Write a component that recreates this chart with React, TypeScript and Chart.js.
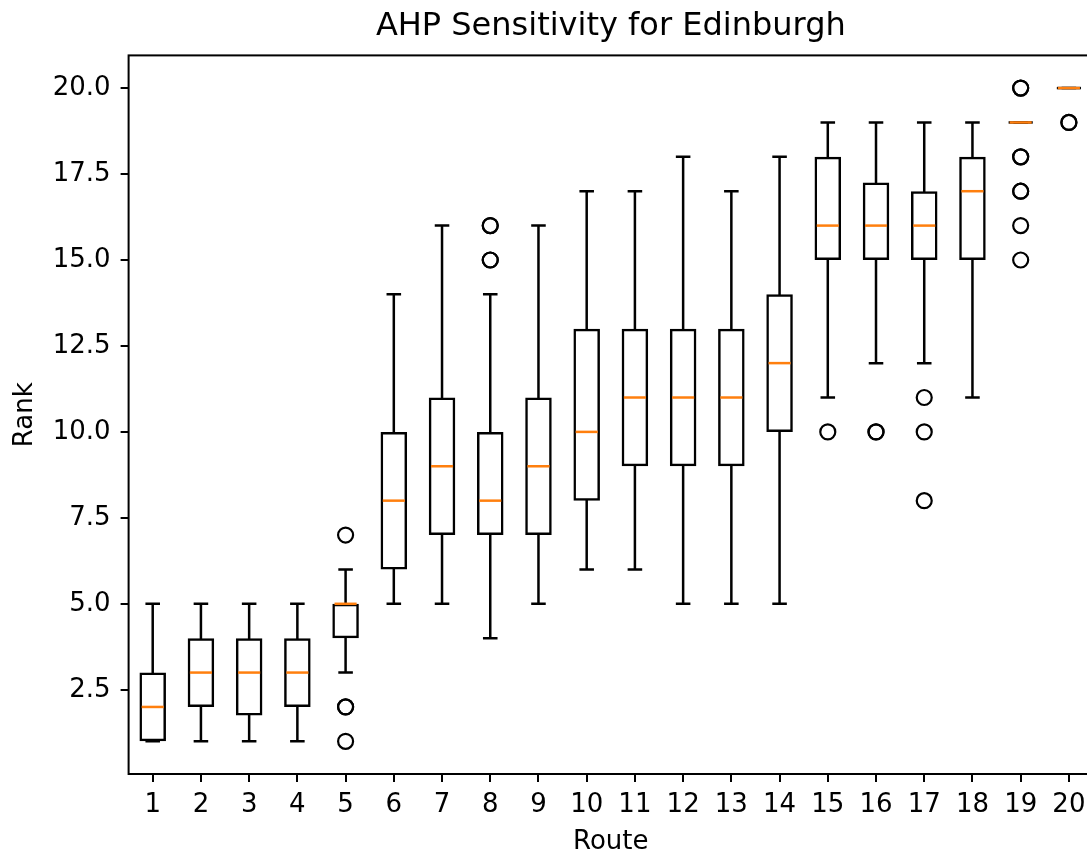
import React, { useEffect, useRef } from "react";
import { Chart, registerables } from "chart.js";

Chart.register(...registerables);

const routes = [1, 2, 3, 4, 5, 6, 7, 8, 9, 10, 11, 12, 13, 14, 15, 16, 17, 18, 19, 20];
const whiskerLow = [1, 1, 1, 1, 3, 5, 5, 4, 5, 6, 6, 5, 5, 5, 11, 12, 12, 11, 19, 20];
const q1 = [1, 2, 1.75, 2, 4, 6, 7, 7, 7, 8, 9, 9, 9, 10, 15, 15, 15, 15, 19, 20];
const medians = [2, 3, 3, 3, 5, 8, 9, 8, 9, 10, 11, 11, 11, 12, 16, 16, 16, 17, 19, 20];
const q3 = [3, 4, 4, 4, 5, 10, 11, 10, 11, 13, 13, 13, 13, 14, 18, 17.25, 17, 18, 19, 20];
const whiskerHigh = [5, 5, 5, 5, 6, 14, 16, 14, 16, 17, 17, 18, 17, 18, 19, 19, 19, 19, 19, 20];
// repeated values = overlapping fliers (drawn darker)
const outliers: number[][] = [
  [], [], [], [], [7, 2, 2, 1], [], [], [16, 16, 15, 15], [], [], [], [], [], [],
  [10], [10, 10], [11, 10, 8], [], [20, 20, 18, 18, 17, 17, 16, 15], [19, 19],
];
const yTicks = [2.5, 5, 7.5, 10, 12.5, 15, 17.5, 20];

const FONT = "DejaVu Sans";

const boxPlugin = {
  id: "boxParts",
  afterDatasetsDraw(chart: any) {
    const { ctx, scales } = chart;
    const xs = scales.x;
    const ys = scales.y;
    ctx.save();
    routes.forEach((r, i) => {
      const cx = xs.getPixelForValue(r);
      const capL = xs.getPixelForValue(r - 0.125);
      const capR = xs.getPixelForValue(r + 0.125);
      ctx.strokeStyle = "#000";
      ctx.lineWidth = 2.5;
      ctx.lineCap = "square";
      ctx.beginPath();
      if (whiskerLow[i] !== q1[i]) {
        ctx.moveTo(cx, ys.getPixelForValue(q1[i]));
        ctx.lineTo(cx, ys.getPixelForValue(whiskerLow[i]));
      }
      if (whiskerHigh[i] !== q3[i]) {
        ctx.moveTo(cx, ys.getPixelForValue(q3[i]));
        ctx.lineTo(cx, ys.getPixelForValue(whiskerHigh[i]));
      }
      const yl = ys.getPixelForValue(whiskerLow[i]);
      const yh = ys.getPixelForValue(whiskerHigh[i]);
      ctx.moveTo(capL, yl);
      ctx.lineTo(capR, yl);
      ctx.moveTo(capL, yh);
      ctx.lineTo(capR, yh);
      ctx.stroke();
      if (q1[i] === q3[i]) {
        const yb = ys.getPixelForValue(q1[i]);
        ctx.lineCap = "butt";
        ctx.beginPath();
        ctx.moveTo(xs.getPixelForValue(r - 0.25), yb);
        ctx.lineTo(xs.getPixelForValue(r + 0.25), yb);
        ctx.stroke();
      }
      const ym = ys.getPixelForValue(medians[i]);
      ctx.lineCap = "butt";
      ctx.strokeStyle = "#ff7f0e";
      ctx.lineWidth = 2.5;
      ctx.beginPath();
      ctx.moveTo(xs.getPixelForValue(r - 0.25) + 1, ym);
      ctx.lineTo(xs.getPixelForValue(r + 0.25) - 1, ym);
      ctx.stroke();
    });
    ctx.restore();
  },
  afterDraw(chart: any) {
    const { ctx, chartArea } = chart;
    ctx.save();
    ctx.strokeStyle = "#000";
    ctx.lineWidth = 2;
    ctx.strokeRect(chartArea.left, chartArea.top, chartArea.right - chartArea.left, chartArea.bottom - chartArea.top);
    ctx.restore();
  },
};

export default function App() {
  const ref = useRef<HTMLCanvasElement | null>(null);

  useEffect(() => {
    if (!ref.current) return;
    const flierPoints: { x: number; y: number }[] = [];
    outliers.forEach((vals, i) => vals.forEach((v) => flierPoints.push({ x: routes[i], y: v })));

    const chart = new Chart(ref.current, {
      type: "bar",
      data: {
        datasets: [
          {
            type: "bar",
            data: routes.map((r, i) => ({ x: r, y: [q1[i], q3[i]] })) as any,
            backgroundColor: "rgba(0,0,0,0)",
            borderColor: "#000",
            borderWidth: 2.5,
            borderSkipped: false,
            barPercentage: 0.55,
            categoryPercentage: 1,
          } as any,
          {
            type: "scatter",
            data: flierPoints,
            pointStyle: "circle",
            pointRadius: 7.5,
            pointBorderWidth: 2.2,
            pointBorderColor: "#000",
            pointBackgroundColor: "rgba(0,0,0,0)",
            showLine: false,
          } as any,
        ],
      },
      options: {
        responsive: false,
        animation: false,
        devicePixelRatio: 1,
        layout: { padding: { left: 0, right: 129, top: 0, bottom: 0 } },
        plugins: {
          legend: { display: false },
          tooltip: { enabled: false },
          title: {
            display: true,
            fullSize: false,
            text: "AHP Sensitivity for Edinburgh",
            color: "#000",
            font: { family: FONT, size: 32, weight: "normal", lineHeight: 1.2 },
            padding: { top: 7, bottom: 10 },
          },
        },
        scales: {
          x: {
            type: "linear",
            min: 0.5,
            max: 20.5,
            offset: false,
            afterBuildTicks: (s: any) => {
              s.ticks = routes.map((v) => ({ value: v }));
            },
            afterFit: (s: any) => {
              s.height = 82;
            },
            ticks: {
              color: "#000",
              font: { family: FONT, size: 26 },
              padding: 8,
              maxRotation: 0,
              autoSkip: false,
              callback: (v: any) => String(v),
            },
            grid: { display: true, offset: false, drawOnChartArea: false, drawTicks: true, tickLength: 8, color: "#000", lineWidth: 2 },
            border: { display: false },
            title: {
              display: true,
              text: "Route",
              color: "#000",
              font: { family: FONT, size: 26, lineHeight: 1 },
              padding: { top: 0, bottom: 1 },
            },
          },
          y: {
            type: "linear",
            min: 0.05,
            max: 20.95,
            afterBuildTicks: (s: any) => {
              s.ticks = yTicks.map((v) => ({ value: v }));
            },
            afterFit: (s: any) => {
              s.width = 128.6;
            },
            ticks: {
              color: "#000",
              font: { family: FONT, size: 26 },
              padding: 10,
              autoSkip: false,
              callback: (v: any) => Number(v).toFixed(1),
            },
            grid: { display: true, drawOnChartArea: false, drawTicks: true, tickLength: 8, color: "#000", lineWidth: 2 },
            border: { display: false },
            title: {
              display: true,
              text: "Rank",
              color: "#000",
              font: { family: FONT, size: 26, lineHeight: 1 },
              padding: { top: 12, bottom: 0 },
            },
          },
        },
      } as any,
      plugins: [boxPlugin],
    });
    return () => chart.destroy();
  }, []);

  return (
    <div style={{ position: "fixed", left: 0, top: 0, width: 1087, height: 856, overflow: "hidden", background: "#fff" }}>
      <canvas ref={ref} width={1222} height={856} style={{ display: "block" }} />
    </div>
  );
}
